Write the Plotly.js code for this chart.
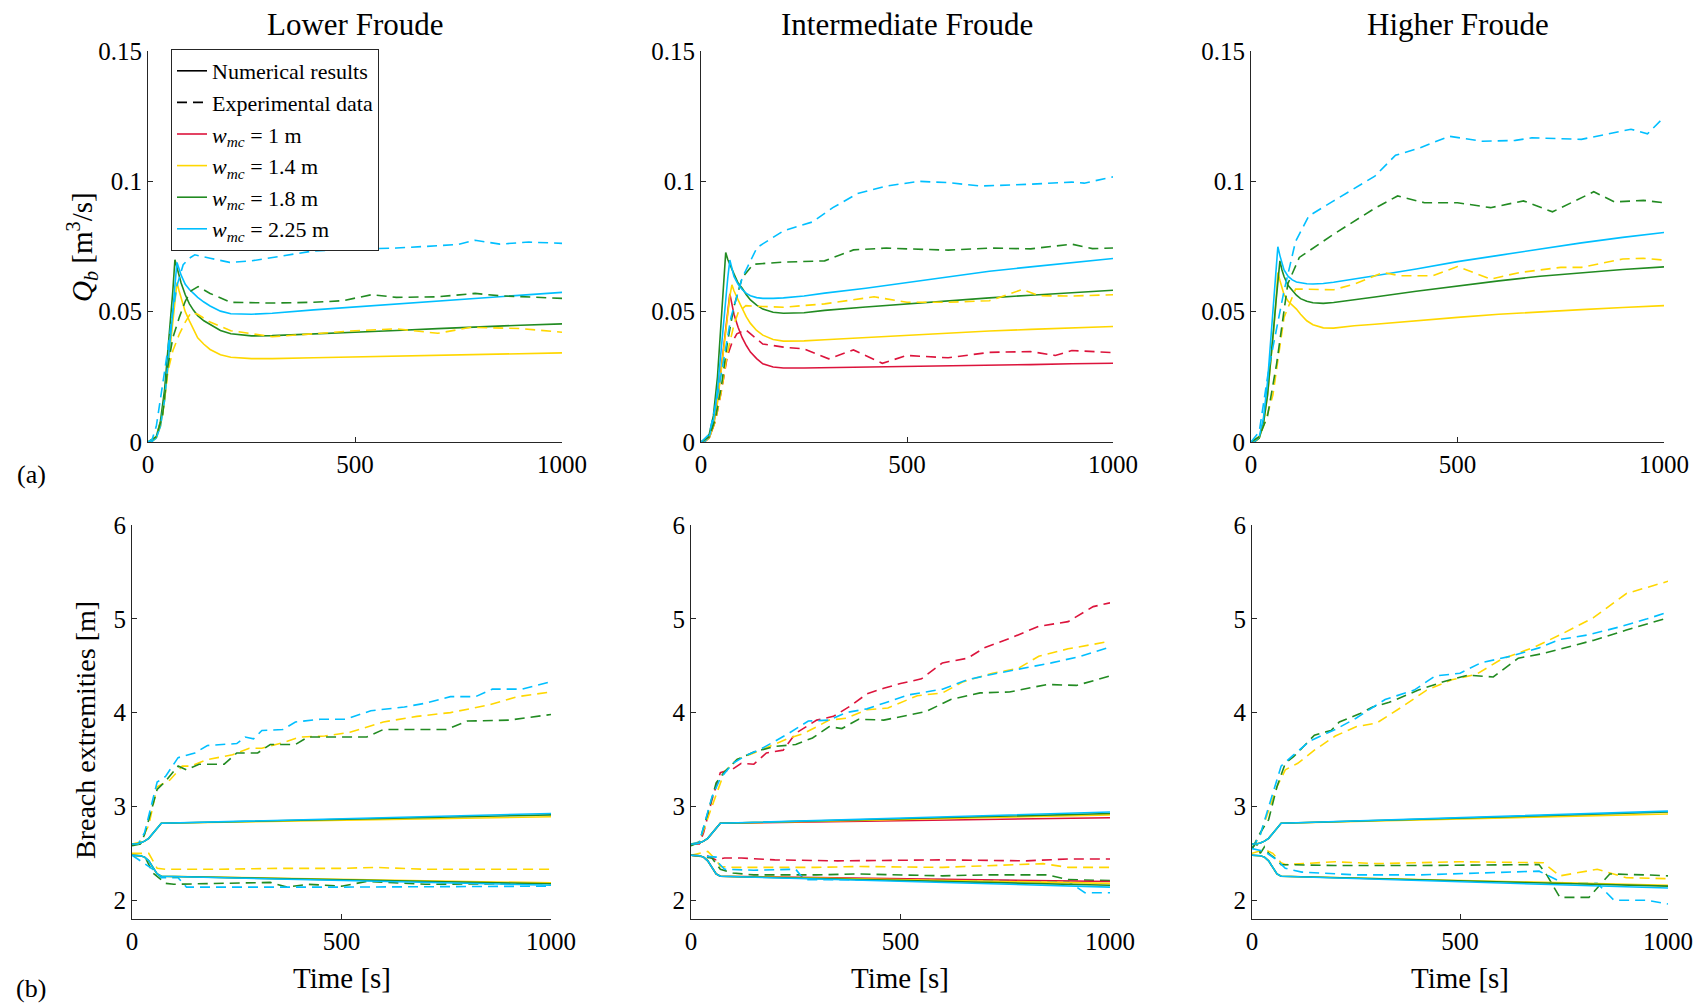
<!DOCTYPE html>
<html>
<head>
<meta charset="utf-8">
<script src="https://cdn.plot.ly/plotly-3.0.1.min.js"></script>
<style>
  html, body { margin: 0; padding: 0; background: #fff; }
  #chart { width: 1702px; height: 1003px; }
</style>
</head>
<body>
<div id="chart"></div>
<script>
// ---------------- DATA ----------------
const panelTitles = ['Lower Froude', 'Intermediate Froude', 'Higher Froude'];
const seriesNames = ['<i>w</i><sub><i>mc</i></sub> = 1 m', '<i>w</i><sub><i>mc</i></sub> = 1.4 m', '<i>w</i><sub><i>mc</i></sub> = 1.8 m', '<i>w</i><sub><i>mc</i></sub> = 2.25 m'];
const xTicks = [0, 500, 1000];
const qTicks = [0, 0.05, 0.1, 0.15];
const qTickText = ['0', '0.05', '0.1', '0.15'];
const bTicks = [2, 3, 4, 5, 6];

// Numerical time grid (discharge)
const tNumQ = [0,10,20,30,40,50,55,60,65,70,75,80,90,100,110,120,135,150,175,200,250,300,400,500,600,700,800,900,1000];

// Lower Froude - numerical discharge
const qLowNum14  = [0,0.0003,0.0015,0.006,0.016,0.031,0.040,0.048,0.055,0.0612,0.058,0.055,0.050,0.0465,0.043,0.040,0.0375,0.0355,0.0335,0.0325,0.032,0.032,0.0323,0.0326,0.0329,0.0332,0.0336,0.0339,0.0342];
const qLowNum18  = [0,0.0004,0.002,0.008,0.020,0.038,0.048,0.058,0.0699,0.067,0.064,0.061,0.0565,0.053,0.0505,0.0485,0.0465,0.045,0.0428,0.0415,0.0407,0.0408,0.0414,0.0421,0.0428,0.0435,0.0442,0.0448,0.0453];
const qLowNum225 = [0,0.0003,0.0015,0.006,0.016,0.032,0.041,0.050,0.060,0.0689,0.0665,0.064,0.0605,0.0585,0.057,0.0555,0.0537,0.0522,0.0502,0.0492,0.049,0.0494,0.0507,0.0518,0.053,0.0542,0.0553,0.0564,0.0574];

// Intermediate Froude - numerical discharge
const qMidNum1   = [0,0.0003,0.0015,0.006,0.016,0.030,0.038,0.045,0.051,0.0568,0.053,0.049,0.044,0.040,0.037,0.0345,0.032,0.030,0.0288,0.0284,0.0284,0.0285,0.0288,0.0291,0.0293,0.0295,0.0297,0.030,0.0302];
const qMidNum14  = [0,0.0003,0.0015,0.006,0.015,0.029,0.036,0.044,0.051,0.056,0.0603,0.058,0.0545,0.051,0.048,0.0455,0.0428,0.041,0.0393,0.0387,0.0388,0.0392,0.0401,0.041,0.0419,0.0426,0.0432,0.0438,0.0443];
const qMidNum18  = [0,0.0005,0.003,0.010,0.025,0.047,0.059,0.0727,0.070,0.068,0.066,0.0645,0.061,0.059,0.0565,0.0545,0.0525,0.051,0.0498,0.0494,0.0496,0.0505,0.0518,0.053,0.0542,0.0553,0.0563,0.0573,0.0582];
const qMidNum225 = [0,0.0004,0.002,0.008,0.020,0.038,0.047,0.056,0.063,0.0698,0.0665,0.0635,0.0605,0.0585,0.057,0.0561,0.0554,0.0551,0.0551,0.0553,0.056,0.0571,0.059,0.0612,0.0634,0.0655,0.0672,0.0689,0.0704];

// Higher Froude - numerical discharge
const qHighNum14  = [0,0.0003,0.0015,0.007,0.018,0.033,0.043,0.053,0.065,0.062,0.059,0.0565,0.054,0.0525,0.051,0.049,0.0465,0.045,0.0438,0.0437,0.0446,0.0452,0.0466,0.0478,0.049,0.050,0.0508,0.0516,0.0523];
const qHighNum18  = [0,0.0003,0.0015,0.007,0.018,0.034,0.044,0.053,0.061,0.0695,0.066,0.0635,0.060,0.058,0.0563,0.055,0.054,0.0534,0.0532,0.0535,0.0545,0.0556,0.0578,0.0599,0.0618,0.0636,0.065,0.0662,0.0672];
const qHighNum225 = [0,0.0004,0.002,0.009,0.023,0.043,0.054,0.064,0.0749,0.0715,0.0685,0.066,0.0635,0.0622,0.0614,0.061,0.0607,0.0606,0.0608,0.0613,0.0625,0.0638,0.0664,0.0692,0.0716,0.0741,0.0764,0.0785,0.0804];

// Experimental discharge
const qLowExpT14  = [0,20,35,48,60,76,90,104,120,150,200,300,400,500,600,700,780,900,1000];
const qLowExp14   = [0,0.002,0.010,0.027,0.035,0.0415,0.046,0.0497,0.049,0.046,0.0427,0.0404,0.0415,0.0427,0.0434,0.0417,0.044,0.0435,0.0421];
const qLowExpT18  = [0,20,35,48,60,76,90,104,121,150,200,300,400,470,540,600,700,790,850,1000];
const qLowExp18   = [0,0.002,0.010,0.029,0.040,0.048,0.054,0.058,0.0596,0.057,0.0536,0.0533,0.0536,0.0542,0.0565,0.0555,0.0557,0.057,0.0561,0.0551];
const qLowExpT225 = [0,10,20,30,40,50,58,70,85,100,113,150,197,250,300,400,500,600,700,750,790,850,920,1000];
const qLowExp225  = [0,0.001,0.006,0.016,0.027,0.038,0.048,0.060,0.068,0.0705,0.0718,0.0705,0.0689,0.0695,0.0708,0.0733,0.074,0.0744,0.0753,0.0758,0.0774,0.0759,0.0767,0.0762];

const qMidExpT1   = [0,20,35,50,64,75,87,109,150,200,250,310,370,440,500,600,700,800,860,900,1000];
const qMidExp1    = [0,0.002,0.008,0.020,0.033,0.038,0.0415,0.043,0.0376,0.0364,0.0357,0.0319,0.0353,0.0302,0.0332,0.0323,0.0344,0.0347,0.0332,0.0351,0.0343];
const qMidExpT14  = [0,20,35,50,64,80,91,109,150,200,300,420,500,600,700,780,820,900,1000];
const qMidExp14   = [0,0.002,0.008,0.020,0.034,0.045,0.050,0.0523,0.052,0.0517,0.053,0.0557,0.0536,0.0536,0.0542,0.0585,0.0561,0.056,0.0565];
const qMidExpT18  = [0,20,35,50,64,80,100,127,200,300,370,450,500,600,700,800,900,950,1000];
const qMidExp18   = [0,0.002,0.009,0.022,0.038,0.052,0.063,0.0682,0.069,0.0695,0.0737,0.0744,0.0741,0.0736,0.0744,0.0741,0.0759,0.0742,0.0744];
const qMidExpT225 = [0,20,38,55,73,100,136,200,270,320,380,450,530,600,680,800,900,930,1000];
const qMidExp225  = [0,0.003,0.016,0.032,0.048,0.063,0.0746,0.081,0.0844,0.0899,0.0953,0.0982,0.1,0.0995,0.0982,0.0989,0.0997,0.0993,0.1017];

const qHighExpT14  = [0,20,35,53,80,108,200,250,320,360,440,500,580,650,750,800,900,950,1000];
const qHighExp14   = [0,0.002,0.008,0.018,0.0478,0.0587,0.0584,0.0606,0.065,0.0638,0.0638,0.0673,0.0625,0.065,0.067,0.067,0.0702,0.0705,0.0698];
const qHighExpT18  = [0,20,40,62,89,117,200,300,355,420,500,580,660,730,830,880,950,1000];
const qHighExp18   = [0,0.002,0.010,0.030,0.0606,0.0708,0.0797,0.0897,0.0944,0.0918,0.0918,0.0899,0.0925,0.0883,0.096,0.0921,0.0927,0.0918];
const qHighExpT225 = [0,20,44,80,108,140,200,300,350,410,480,560,640,680,800,920,960,1000];
const qHighExp225  = [0,0.004,0.029,0.058,0.077,0.0867,0.0925,0.102,0.110,0.1129,0.1173,0.1154,0.1157,0.1167,0.1161,0.120,0.1182,0.1246];

// Numerical time grid (breach extremities)
const tNumB = [0,10,20,30,40,50,60,70,1000];
const bLowNumUp14  = [2.6,2.6,2.61,2.63,2.66,2.71,2.77,2.82,2.89];
const bLowNumUp18  = [2.6,2.6,2.61,2.63,2.66,2.71,2.77,2.82,2.91];
const bLowNumUp225 = [2.6,2.6,2.61,2.63,2.66,2.71,2.77,2.82,2.925];
const bLowNumDn14  = [2.48,2.48,2.475,2.46,2.42,2.35,2.28,2.255,2.185];
const bLowNumDn18  = [2.48,2.48,2.475,2.46,2.42,2.35,2.28,2.255,2.175];
const bLowNumDn225 = [2.48,2.48,2.475,2.46,2.42,2.35,2.28,2.255,2.16];
const bMidNumUp1   = [2.6,2.6,2.61,2.63,2.66,2.71,2.77,2.82,2.88];
const bMidNumUp14  = [2.6,2.6,2.61,2.63,2.66,2.71,2.77,2.82,2.91];
const bMidNumUp18  = [2.6,2.6,2.61,2.63,2.66,2.71,2.77,2.82,2.925];
const bMidNumUp225 = [2.6,2.6,2.61,2.63,2.66,2.71,2.77,2.82,2.94];
const bMidNumDn1   = [2.48,2.48,2.475,2.46,2.42,2.35,2.28,2.255,2.2];
const bMidNumDn14  = [2.48,2.48,2.475,2.46,2.42,2.35,2.28,2.255,2.18];
const bMidNumDn18  = [2.48,2.48,2.475,2.46,2.42,2.35,2.28,2.255,2.16];
const bMidNumDn225 = [2.48,2.48,2.475,2.46,2.42,2.35,2.28,2.255,2.14];
const bHighNumUp14  = [2.6,2.6,2.61,2.63,2.66,2.71,2.77,2.82,2.92];
const bHighNumUp18  = [2.6,2.6,2.61,2.63,2.66,2.71,2.77,2.82,2.94];
const bHighNumUp225 = [2.6,2.6,2.61,2.63,2.66,2.71,2.77,2.82,2.95];
const bHighNumDn14  = [2.48,2.48,2.475,2.46,2.42,2.35,2.28,2.255,2.16];
const bHighNumDn18  = [2.48,2.48,2.475,2.46,2.42,2.35,2.28,2.255,2.15];
const bHighNumDn225 = [2.48,2.48,2.475,2.46,2.42,2.35,2.28,2.255,2.13];

// Experimental breach extremities - Lower Froude
const bLowExpUpT14  = [0,20,40,60,90,120,140,180,240,280,310,360,400,460,520,600,680,760,850,920,1000];
const bLowExpUp14   = [2.6,2.62,2.8,3.21,3.28,3.43,3.43,3.5,3.55,3.62,3.62,3.68,3.74,3.75,3.79,3.9,3.96,4.0,4.08,4.17,4.22];
const bLowExpUpT18  = [0,20,30,60,80,110,130,160,220,250,300,330,390,420,480,560,600,700,750,800,900,1000];
const bLowExpUp18   = [2.58,2.6,2.7,3.18,3.27,3.43,3.39,3.45,3.45,3.57,3.57,3.66,3.66,3.74,3.74,3.74,3.82,3.82,3.82,3.91,3.92,3.98];
const bLowExpUpT225 = [0,15,30,50,60,80,110,150,180,250,270,290,310,360,390,450,510,570,650,700,760,820,860,930,1000];
const bLowExpUp225  = [2.6,2.6,2.72,3.07,3.26,3.32,3.52,3.57,3.65,3.67,3.74,3.72,3.81,3.82,3.9,3.93,3.93,4.02,4.06,4.1,4.17,4.17,4.25,4.25,4.33];
const bLowExpDnT14  = [0,40,60,80,200,350,500,580,700,1000];
const bLowExpDn14   = [2.5,2.5,2.34,2.33,2.33,2.34,2.34,2.35,2.33,2.33];
const bLowExpDnT18  = [0,30,50,80,100,200,330,370,420,500,560,700,1000];
const bLowExpDn18   = [2.48,2.47,2.29,2.18,2.17,2.18,2.19,2.14,2.17,2.15,2.2,2.17,2.18];
const bLowExpDnT225 = [0,50,70,110,130,500,1000];
const bLowExpDn225  = [2.48,2.33,2.24,2.24,2.14,2.14,2.15];

// Experimental breach extremities - Intermediate Froude
const bMidExpUpT1   = [0,20,30,50,70,100,120,150,180,220,250,300,340,380,420,460,500,550,600,660,700,760,830,900,960,1000];
const bMidExpUp1    = [2.6,2.6,2.72,3.07,3.36,3.4,3.46,3.45,3.57,3.6,3.78,3.92,3.96,4.07,4.2,4.26,4.31,4.36,4.53,4.58,4.69,4.79,4.92,4.97,5.13,5.17];
const bMidExpUpT14  = [0,20,50,80,110,150,230,270,330,370,420,470,540,600,650,720,780,830,900,1000];
const bMidExpUp14   = [2.6,2.62,3.0,3.37,3.5,3.57,3.72,3.78,3.92,3.94,4.03,4.05,4.18,4.21,4.33,4.42,4.47,4.6,4.68,4.76];
const bMidExpUpT18  = [0,20,40,60,80,110,150,200,250,290,330,360,400,460,560,620,690,760,850,920,1000];
const bMidExpUp18   = [2.58,2.62,2.93,3.25,3.37,3.5,3.58,3.64,3.66,3.73,3.85,3.83,3.93,3.92,4.01,4.14,4.21,4.22,4.3,4.29,4.39];
const bMidExpUpT225 = [0,20,50,70,100,130,170,230,280,330,370,420,460,520,600,660,720,780,860,930,1000];
const bMidExpUp225  = [2.6,2.62,3.1,3.3,3.46,3.54,3.62,3.77,3.91,3.92,4.0,4.04,4.1,4.19,4.25,4.35,4.41,4.46,4.53,4.6,4.7];
const bMidExpDnT1   = [0,40,60,80,120,200,350,600,800,900,1000];
const bMidExpDn1    = [2.48,2.47,2.43,2.45,2.45,2.43,2.42,2.43,2.42,2.44,2.44];
const bMidExpDnT14  = [0,40,60,70,100,300,400,600,840,900,1000];
const bMidExpDn14   = [2.48,2.52,2.43,2.36,2.35,2.35,2.36,2.35,2.39,2.35,2.35];
const bMidExpDnT18  = [0,50,70,100,150,300,400,600,700,850,900,1000];
const bMidExpDn18   = [2.48,2.45,2.33,2.29,2.27,2.27,2.28,2.26,2.27,2.27,2.22,2.21];
const bMidExpDnT225 = [0,60,65,80,150,250,270,400,600,900,940,1000];
const bMidExpDn225  = [2.48,2.46,2.4,2.33,2.32,2.33,2.22,2.22,2.22,2.2,2.08,2.08];

// Experimental breach extremities - Higher Froude
const bHighExpUpT14  = [0,20,60,80,110,150,200,250,300,360,420,480,540,600,680,750,820,900,1000];
const bHighExpUp14   = [2.55,2.7,3.21,3.39,3.46,3.6,3.75,3.85,3.89,4.06,4.24,4.35,4.41,4.57,4.7,4.85,5.01,5.27,5.4];
const bHighExpUpT18  = [0,20,40,60,80,100,120,150,190,210,260,290,330,400,460,520,580,640,700,760,820,900,1000];
const bHighExpUp18   = [2.55,2.72,2.86,3.21,3.46,3.53,3.62,3.76,3.81,3.9,3.99,4.06,4.11,4.24,4.33,4.4,4.38,4.58,4.63,4.7,4.77,4.88,5.01];
const bHighExpUpT225 = [0,20,50,70,100,140,200,250,320,390,440,500,550,620,690,740,810,880,950,1000];
const bHighExpUp225  = [2.55,2.7,3.14,3.43,3.55,3.7,3.82,3.94,4.14,4.24,4.39,4.42,4.53,4.6,4.69,4.78,4.83,4.91,5.0,5.07];
const bHighExpDnT14  = [0,30,50,70,80,200,300,500,700,740,830,900,1000];
const bHighExpDn14   = [2.5,2.54,2.5,2.4,2.38,2.41,2.39,2.41,2.4,2.26,2.33,2.24,2.23];
const bHighExpDnT18  = [0,10,20,30,40,60,70,200,400,690,710,740,810,860,950,1000];
const bHighExpDn18   = [2.55,2.61,2.5,2.57,2.5,2.43,2.38,2.37,2.37,2.38,2.26,2.03,2.03,2.28,2.27,2.26];
const bHighExpDnT225 = [0,30,60,80,120,250,400,690,750,830,870,950,1000];
const bHighExpDn225  = [2.55,2.52,2.43,2.34,2.3,2.27,2.27,2.31,2.18,2.18,2.0,2.0,1.96];

// ---------------- STYLE ----------------
const C1 = '#DC143C', C14 = '#FFD700', C18 = '#228B22', C225 = '#00BFFF';
const FONT = 'Liberation Serif';
const LW = 1.6;
const DASH = '10px,6px';

const traces = [];
function line(xa, ya, t, v, color, dashed) {
  traces.push({
    type: 'scatter', mode: 'lines', x: t, y: v, xaxis: xa, yaxis: ya,
    line: { color: color, width: LW, dash: dashed ? DASH : 'solid' },
    showlegend: false, hoverinfo: 'skip'
  });
}

// Top row: discharge
line('x','y', tNumQ, qLowNum14, C14, false);
line('x','y', tNumQ, qLowNum18, C18, false);
line('x','y', tNumQ, qLowNum225, C225, false);
line('x','y', qLowExpT14, qLowExp14, C14, true);
line('x','y', qLowExpT18, qLowExp18, C18, true);
line('x','y', qLowExpT225, qLowExp225, C225, true);

line('x2','y2', tNumQ, qMidNum1, C1, false);
line('x2','y2', tNumQ, qMidNum14, C14, false);
line('x2','y2', tNumQ, qMidNum18, C18, false);
line('x2','y2', tNumQ, qMidNum225, C225, false);
line('x2','y2', qMidExpT1, qMidExp1, C1, true);
line('x2','y2', qMidExpT14, qMidExp14, C14, true);
line('x2','y2', qMidExpT18, qMidExp18, C18, true);
line('x2','y2', qMidExpT225, qMidExp225, C225, true);

line('x3','y3', tNumQ, qHighNum14, C14, false);
line('x3','y3', tNumQ, qHighNum18, C18, false);
line('x3','y3', tNumQ, qHighNum225, C225, false);
line('x3','y3', qHighExpT14, qHighExp14, C14, true);
line('x3','y3', qHighExpT18, qHighExp18, C18, true);
line('x3','y3', qHighExpT225, qHighExp225, C225, true);

// Bottom row: breach extremities
line('x4','y4', bLowExpUpT14, bLowExpUp14, C14, true);
line('x4','y4', bLowExpUpT18, bLowExpUp18, C18, true);
line('x4','y4', bLowExpUpT225, bLowExpUp225, C225, true);
line('x4','y4', bLowExpDnT14, bLowExpDn14, C14, true);
line('x4','y4', bLowExpDnT18, bLowExpDn18, C18, true);
line('x4','y4', bLowExpDnT225, bLowExpDn225, C225, true);
line('x4','y4', tNumB, bLowNumUp14, C14, false);
line('x4','y4', tNumB, bLowNumUp18, C18, false);
line('x4','y4', tNumB, bLowNumUp225, C225, false);
line('x4','y4', tNumB, bLowNumDn14, C14, false);
line('x4','y4', tNumB, bLowNumDn18, C18, false);
line('x4','y4', tNumB, bLowNumDn225, C225, false);

line('x5','y5', bMidExpUpT1, bMidExpUp1, C1, true);
line('x5','y5', bMidExpUpT14, bMidExpUp14, C14, true);
line('x5','y5', bMidExpUpT18, bMidExpUp18, C18, true);
line('x5','y5', bMidExpUpT225, bMidExpUp225, C225, true);
line('x5','y5', bMidExpDnT1, bMidExpDn1, C1, true);
line('x5','y5', bMidExpDnT14, bMidExpDn14, C14, true);
line('x5','y5', bMidExpDnT18, bMidExpDn18, C18, true);
line('x5','y5', bMidExpDnT225, bMidExpDn225, C225, true);
line('x5','y5', tNumB, bMidNumUp1, C1, false);
line('x5','y5', tNumB, bMidNumUp14, C14, false);
line('x5','y5', tNumB, bMidNumUp18, C18, false);
line('x5','y5', tNumB, bMidNumUp225, C225, false);
line('x5','y5', tNumB, bMidNumDn1, C1, false);
line('x5','y5', tNumB, bMidNumDn14, C14, false);
line('x5','y5', tNumB, bMidNumDn18, C18, false);
line('x5','y5', tNumB, bMidNumDn225, C225, false);

line('x6','y6', bHighExpUpT14, bHighExpUp14, C14, true);
line('x6','y6', bHighExpUpT18, bHighExpUp18, C18, true);
line('x6','y6', bHighExpUpT225, bHighExpUp225, C225, true);
line('x6','y6', bHighExpDnT14, bHighExpDn14, C14, true);
line('x6','y6', bHighExpDnT18, bHighExpDn18, C18, true);
line('x6','y6', bHighExpDnT225, bHighExpDn225, C225, true);
line('x6','y6', tNumB, bHighNumUp14, C14, false);
line('x6','y6', tNumB, bHighNumUp18, C18, false);
line('x6','y6', tNumB, bHighNumUp225, C225, false);
line('x6','y6', tNumB, bHighNumDn14, C14, false);
line('x6','y6', tNumB, bHighNumDn18, C18, false);
line('x6','y6', tNumB, bHighNumDn225, C225, false);

// Legend entries (no data)
const legendStyles = [
  { name: 'Numerical results', color: '#000', dash: 'solid' },
  { name: 'Experimental data', color: '#000', dash: DASH },
  { name: seriesNames[0], color: C1, dash: 'solid' },
  { name: seriesNames[1], color: C14, dash: 'solid' },
  { name: seriesNames[2], color: C18, dash: 'solid' },
  { name: seriesNames[3], color: C225, dash: 'solid' }
];
legendStyles.forEach(s => traces.push({
  type: 'scatter', mode: 'lines', x: [null], y: [null], xaxis: 'x', yaxis: 'y',
  name: s.name, line: { color: s.color, width: LW, dash: s.dash }, showlegend: true, hoverinfo: 'skip'
}));

// ---------------- LAYOUT ----------------
const W = 1702, H = 1003;
const px = v => v / W;
const py = v => 1 - v / H;

const tickFont = { family: FONT, size: 25, color: '#000' };
function xAxis(l, r, anchor) {
  return {
    domain: [px(l), px(r)], anchor: anchor, range: [0, 1000], tickvals: xTicks,
    showline: true, linecolor: '#262626', linewidth: 1, mirror: false,
    ticks: 'inside', ticklen: 5, tickcolor: '#262626', tickwidth: 1,
    showgrid: false, zeroline: false, tickfont: tickFont, fixedrange: true
  };
}
function yAxis(top, bottom, anchor, range, tv, tt) {
  const a = {
    domain: [py(bottom), py(top)], anchor: anchor, range: range, tickvals: tv,
    showline: true, linecolor: '#262626', linewidth: 1, mirror: false,
    ticks: 'inside', ticklen: 5, tickcolor: '#262626', tickwidth: 1,
    showgrid: false, zeroline: false, tickfont: tickFont, fixedrange: true
  };
  if (tt) a.ticktext = tt;
  return a;
}

const topY = [51, 442], botY = [525, 919];
const topX = [[148, 562], [701, 1113], [1251, 1664]];
const botX = [[132, 551], [691, 1110], [1252, 1668]];

const layout = {
  width: W, height: H,
  margin: { l: 0, r: 0, t: 0, b: 0 },
  paper_bgcolor: '#fff', plot_bgcolor: '#fff',
  font: { family: FONT, color: '#000' },
  xaxis:  xAxis(topX[0][0], topX[0][1], 'y'),
  xaxis2: xAxis(topX[1][0], topX[1][1], 'y2'),
  xaxis3: xAxis(topX[2][0], topX[2][1], 'y3'),
  xaxis4: xAxis(botX[0][0], botX[0][1], 'y4'),
  xaxis5: xAxis(botX[1][0], botX[1][1], 'y5'),
  xaxis6: xAxis(botX[2][0], botX[2][1], 'y6'),
  yaxis:  yAxis(topY[0], topY[1], 'x',  [0, 0.15], qTicks, qTickText),
  yaxis2: yAxis(topY[0], topY[1], 'x2', [0, 0.15], qTicks, qTickText),
  yaxis3: yAxis(topY[0], topY[1], 'x3', [0, 0.15], qTicks, qTickText),
  yaxis4: yAxis(botY[0], botY[1], 'x4', [1.8, 6], bTicks),
  yaxis5: yAxis(botY[0], botY[1], 'x5', [1.8, 6], bTicks),
  yaxis6: yAxis(botY[0], botY[1], 'x6', [1.8, 6], bTicks),
  showlegend: true,
  legend: {
    x: px(171), y: py(49), xanchor: 'left', yanchor: 'top',
    bgcolor: '#fff', bordercolor: '#262626', borderwidth: 1,
    font: { family: FONT, size: 22, color: '#000' },
    tracegroupgap: 0
  },
  annotations: []
};

const ann = layout.annotations;
const titleFont = { family: FONT, size: 31, color: '#000' };
const labelFont = { family: FONT, size: 28, color: '#000' };
panelTitles.forEach((t, i) => {
  ann.push({ text: t, xref: 'paper', yref: 'paper', x: px((topX[i][0] + topX[i][1]) / 2), y: py(24),
             xanchor: 'center', yanchor: 'middle', showarrow: false, font: titleFont });
  ann.push({ text: 'Time [s]', xref: 'paper', yref: 'paper', x: px((botX[i][0] + botX[i][1]) / 2), y: py(978),
             xanchor: 'center', yanchor: 'middle', showarrow: false, font: { family: FONT, size: 29, color: '#000' } });
});
ann.push({ text: '<i>Q<sub>b</sub></i> [m<sup>3</sup>/s]', xref: 'paper', yref: 'paper', x: px(82), y: py(247),
           xanchor: 'center', yanchor: 'middle', textangle: -90, showarrow: false, font: { family: FONT, size: 29, color: '#000' } });
ann.push({ text: 'Breach extremities [m]', xref: 'paper', yref: 'paper', x: px(85), y: py(730),
           xanchor: 'center', yanchor: 'middle', textangle: -90, showarrow: false, font: labelFont });
ann.push({ text: '(a)', xref: 'paper', yref: 'paper', x: px(31), y: py(474),
           xanchor: 'center', yanchor: 'middle', showarrow: false, font: { family: FONT, size: 26, color: '#000' } });
ann.push({ text: '(b)', xref: 'paper', yref: 'paper', x: px(31), y: py(988),
           xanchor: 'center', yanchor: 'middle', showarrow: false, font: { family: FONT, size: 26, color: '#000' } });

Plotly.newPlot('chart', traces, layout, { displayModeBar: false, staticPlot: true });
</script>
</body>
</html>
